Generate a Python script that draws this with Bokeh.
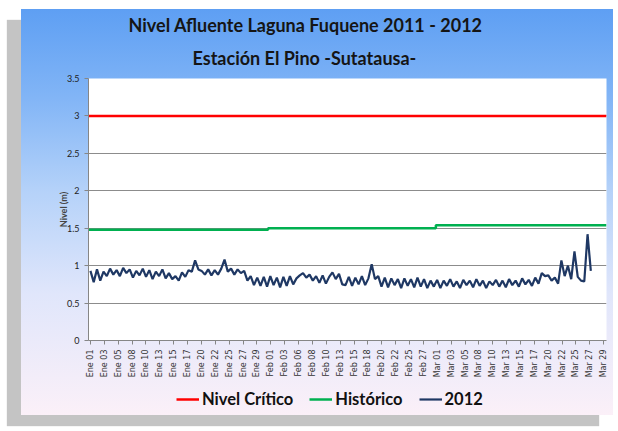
from bokeh.plotting import figure
from bokeh.layouts import column
from bokeh.models import (FixedTicker, Legend, LegendItem, Title, ColumnDataSource,
                          CustomJSTickFormatter, NumeralTickFormatter)
from bokeh.embed import file_html
from bokeh.resources import INLINE

# ---------------- data ----------------
tick_labels = ["Ene 01", "Ene 03", "Ene 05", "Ene 08", "Ene 10", "Ene 13", "Ene 15", "Ene 17",
               "Ene 20", "Ene 22", "Ene 25", "Ene 27", "Ene 29",
               "Feb 01", "Feb 03", "Feb 06", "Feb 08", "Feb 10", "Feb 13", "Feb 15", "Feb 18",
               "Feb 20", "Feb 22", "Feb 25", "Feb 27",
               "Mar 01", "Mar 03", "Mar 05", "Mar 08", "Mar 10", "Mar 13", "Mar 15", "Mar 17",
               "Mar 20", "Mar 22", "Mar 25", "Mar 27", "Mar 29"]

nivel_2012 = [
    0.93, 0.78, 0.95, 0.80, 0.92, 0.86, 0.96, 0.88, 0.94, 0.86, 0.97, 0.90, 0.95, 0.84, 0.93, 0.87,
    0.96, 0.85, 0.94, 0.82, 0.92, 0.86, 0.95, 0.83, 0.90, 0.82,
    0.86, 0.80, 0.91, 0.85, 0.94, 0.92, 1.07, 0.95, 0.93, 0.88, 0.95, 0.87, 0.94, 0.88, 0.96, 1.08,
    0.92, 0.96, 0.88, 0.95, 0.90, 0.93, 0.80, 0.86, 0.74, 0.84,
    0.73, 0.85, 0.72, 0.86, 0.74, 0.84, 0.71, 0.85, 0.73, 0.86, 0.75, 0.83, 0.87, 0.90, 0.84, 0.88,
    0.80, 0.86, 0.77, 0.87, 0.76, 0.85, 0.91, 0.82, 0.89, 0.75,
    0.74, 0.85, 0.73, 0.84, 0.75, 0.86, 0.74, 0.83, 1.02, 0.82, 0.86, 0.72, 0.84, 0.71, 0.83, 0.74,
    0.82, 0.70, 0.83, 0.73, 0.82, 0.71, 0.84, 0.72, 0.82, 0.70, 0.80,
    0.72, 0.81, 0.70, 0.80, 0.73, 0.82, 0.72, 0.79, 0.70, 0.81, 0.74, 0.80, 0.71, 0.82, 0.73, 0.80,
    0.70, 0.79, 0.74, 0.81, 0.72, 0.80, 0.71, 0.82, 0.74, 0.80, 0.72, 0.83, 0.75, 0.81, 0.73, 0.84,
    0.76, 0.90, 0.86, 0.87,
    0.80, 0.84, 0.76, 1.07, 0.86, 1.00, 0.82, 1.19, 0.85, 0.80, 0.79, 1.42, 0.93,
]

nivel_critico = 3.0
historico_values = [1.48, 1.50, 1.54]
historico_breaks = [12.8, 24.9]      # positions on the label axis where the historic level changes

x_start, x_end = -0.14, 37.2          # axis extent in label units
data_end = 36.07                      # where the 2012 series stops, in label units

series_names = ["Nivel Crítico", "Histórico", "2012"]
series_colors = ["#ff0000", "#00b050", "#1f3864"]
series_widths = [2.5, 2.5, 2.2]

# ---------------- derived sources ----------------
n = len(nivel_2012)
x2012 = [i * data_end / (n - 1) for i in range(n)]
src_2012 = ColumnDataSource(dict(x=x2012, y=nivel_2012))

hx = [x_start, historico_breaks[0], historico_breaks[0], historico_breaks[1], historico_breaks[1], x_end]
hy = [historico_values[0], historico_values[0], historico_values[1], historico_values[1],
      historico_values[2], historico_values[2]]
src_hist = ColumnDataSource(dict(x=hx, y=hy))
src_crit = ColumnDataSource(dict(x=[x_start, x_end], y=[nivel_critico, nivel_critico]))

# ---------------- main figure ----------------
p = figure(width=592, height=376, output_backend="svg", toolbar_location=None,
           x_range=(x_start, x_end), y_range=(0, 3.5),
           min_border_left=67, min_border_right=7, min_border_top=69, min_border_bottom=45,
           border_fill_color=None, background_fill_color="white", outline_line_color=None)

srcs = [src_crit, src_hist, src_2012]
for s, c, w in zip(srcs, series_colors, series_widths):
    p.line("x", "y", source=s, line_color=c, line_width=w)

# titles
t2 = Title(text="Estación El Pino -Sutatausa-", align="left", text_font="Lato",
           text_font_size="18px", text_font_style="bold", text_color="#151515", offset=104, standoff=19)
t1 = Title(text="Nivel Afluente Laguna Fuquene 2011 - 2012", align="left", text_font="Lato",
           text_font_size="18px", text_font_style="bold", text_color="#151515", offset=40, standoff=0)
p.add_layout(t2, "above")
p.add_layout(t1, "above")

# y axis
p.yaxis.ticker = FixedTicker(ticks=[0, 0.5, 1, 1.5, 2, 2.5, 3, 3.5])
p.yaxis.formatter = NumeralTickFormatter(format="0.[0]")
p.yaxis.axis_label = "Nivel (m)"
p.yaxis.axis_label_text_font = "Lato"
p.yaxis.axis_label_text_font_size = "9px"
p.yaxis.axis_label_text_font_style = "bold"
p.yaxis.axis_label_standoff = -5
p.yaxis.major_label_text_font = "Lato"
p.yaxis.major_label_text_font_size = "9px"
p.yaxis.major_label_text_color = "#222222"
p.yaxis.axis_line_color = "#868686"
p.yaxis.major_tick_line_color = "#868686"
p.yaxis.major_tick_in = 0
p.yaxis.major_tick_out = 4
p.yaxis.minor_tick_line_color = None

# x axis
p.xaxis.ticker = FixedTicker(ticks=list(range(len(tick_labels))))
p.xaxis.formatter = CustomJSTickFormatter(args=dict(labels=tick_labels),
                                          code="const i = Math.round(tick); return (i >= 0 && i < labels.length) ? labels[i] : '';")
p.xaxis.major_label_orientation = 1.5708
p.xaxis.major_label_text_font = "DejaVu Sans"
p.xaxis.major_label_text_font_size = "8px"
p.xaxis.major_label_text_color = "#333333"
p.xaxis.axis_line_color = "#868686"
p.xaxis.major_tick_line_color = "#868686"
p.xaxis.major_tick_in = 0
p.xaxis.major_tick_out = 4
p.xaxis.minor_tick_line_color = None

p.xgrid.grid_line_color = None
p.ygrid.grid_line_color = "#8c8c8c"
p.ygrid.grid_line_width = 1

# ---------------- legend strip ----------------
lf = figure(width=592, height=30, output_backend="svg", toolbar_location=None,
            x_range=(0, 1), y_range=(0, 1), min_border=0,
            border_fill_color=None, background_fill_color=None, outline_line_color=None)
lf.axis.visible = False
lf.grid.visible = False
items = []
for name, c, w in zip(series_names, series_colors, series_widths):
    # legend proxies placed outside the visible range, so only the legend glyph shows
    r = lf.line(x=[5, 6], y=[5, 5], line_color=c, line_width=w)
    items.append(LegendItem(label=name, renderers=[r]))
legend = Legend(items=items, orientation="horizontal", location=(88, 6),
                label_text_font="Lato", label_text_font_size="16.5px", label_text_font_style="bold",
                label_text_color="#111111", glyph_width=23, spacing=16, label_standoff=3,
                background_fill_alpha=0, border_line_color=None, padding=4, margin=0)
lf.add_layout(legend, "center")

layout = column(p, lf, spacing=0, margin=(9, 0, 0, 21),
                styles={"background": "linear-gradient(to bottom, #5e9ff3 0%, #82b5f6 22%, #b5d2f9 45%, #e0e6fb 70%, #fbf0f8 100%)",
                        "box-shadow": "-14px 11px 1px #c4c4c4"})

open("out.html", "w").write(file_html(layout, INLINE))
